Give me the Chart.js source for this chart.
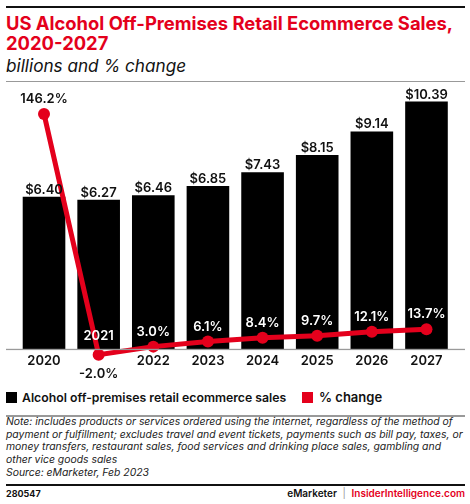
<!DOCTYPE html>
<html>
<head>
<meta charset="utf-8">
<script src="https://cdn.jsdelivr.net/npm/chart.js@4"></script>
<style>
  html,body{margin:0;padding:0;background:#fff;}
  body{width:470px;height:504px;position:relative;overflow:hidden;font-family:Inter,"Open Sans",sans-serif;}
  .abs{position:absolute;white-space:nowrap;}
  .rule{position:absolute;left:6px;width:459px;}
  #title{left:6px;top:13px;font-weight:700;color:#e4001c;font-size:17px;line-height:20px;}
  #subtitle{left:6px;top:56px;font-style:italic;font-weight:400;color:#111;font-size:16px;line-height:20px;}
  #chartBox{position:absolute;left:0;top:82px;width:470px;height:300px;}
  .leg{position:absolute;top:389px;height:17px;font-size:13px;line-height:17px;font-weight:600;color:#111;}
  .sw{position:absolute;width:11px;height:11px;top:392px;}
  #note{left:6px;top:416px;font-style:italic;font-size:11px;line-height:12.7px;color:#222;}
  #fid{left:6px;top:488px;font-size:9px;font-weight:700;line-height:11px;color:#111;}
  #brand{right:5px;top:487px;font-size:10px;font-weight:600;line-height:12px;}
</style>
</head>
<body>
<div class="rule" style="top:6px;height:2px;background:#111;"></div>
<div id="title" class="abs"><span id="t1">US Alcohol Off-Premises Retail Ecommerce Sales,</span><br>2020-2027</div>
<div id="subtitle" class="abs">billions and % change</div>
<div class="rule" style="top:81px;height:1px;background:#999;"></div>
<div id="chartBox"><canvas id="c"></canvas></div>
<div class="sw" style="left:6px;background:#000;"></div>
<div class="leg abs" id="leg1" style="left:22px;">Alcohol off-premises retail ecommerce sales</div>
<div class="sw" style="left:302px;background:#e4001c;"></div>
<div class="leg abs" id="leg2" style="left:319px;">% change</div>
<div class="rule" style="top:415px;height:1.5px;background:#999;"></div>
<div id="note" class="abs"><span id="n1">Note: includes products or services ordered using the internet, regardless of the method of</span><br>payment or fulfillment; excludes travel and event tickets, payments such as bill pay, taxes, or<br>money transfers, restaurant sales, food services and drinking place sales, gambling and<br>other vice goods sales<br>Source: eMarketer, Feb 2023</div>
<div class="rule" style="top:484px;height:2px;background:#111;"></div>
<div id="fid" class="abs">280547</div>
<div id="brand" class="abs"><span style="color:#111;">eMarketer</span><span style="color:#999;font-weight:400;"> &nbsp;|&nbsp; </span><span style="color:#e4001c;">InsiderIntelligence.com</span></div>
<script>
// ---- data ----
const years = ["2020","2021","2022","2023","2024","2025","2026","2027"];
const sales = [6.40, 6.27, 6.46, 6.85, 7.43, 8.15, 9.14, 10.39];
const pctChange = [146.2, -2.0, 3.0, 6.1, 8.4, 9.7, 12.1, 13.7];
const salesLabels = ["$6.40","$6.27","$6.46","$6.85","$7.43","$8.15","$9.14","$10.39"];
const pctLabels = ["146.2%","-2.0%","3.0%","6.1%","8.4%","9.7%","12.1%","13.7%"];

// fit widths of some text lines
function fit(el, target, box){
  const b = box || el;
  let fs = parseFloat(getComputedStyle(b).fontSize);
  for(let i=0;i<6;i++){
    const w = el.getBoundingClientRect().width;
    fs = fs*target/w;
    b.style.fontSize = fs.toFixed(2)+"px";
  }
}
fit(document.getElementById('t1'), 447, document.getElementById('title'));
fit(document.getElementById('subtitle'), 180);
fit(document.getElementById('leg1'), 264);
fit(document.getElementById('n1'), 447, document.getElementById('note'));

const RED = '#e4001c';
const FONT = 'Inter, "Open Sans", sans-serif';

const labelPlugin = {
  id:'labels',
  afterDatasetsDraw(chart){
    const ctx = chart.ctx;
    const bars = chart.getDatasetMeta(1).data;
    const pts = chart.getDatasetMeta(0).data;
    const area = chart.chartArea;
    ctx.save();
    // baseline
    ctx.fillStyle = '#9a9a9a';
    ctx.fillRect(6, area.bottom - 0.5, 459, 1.3);
    ctx.textAlign = 'center';
    ctx.font = '600 13px ' + FONT;
    // bar value labels
    ctx.fillStyle = '#111';
    ctx.textBaseline = 'alphabetic';
    bars.forEach((b,i)=>{ ctx.fillText(salesLabels[i], b.x, b.y - 3); });
    // x labels
    ctx.textBaseline = 'middle';
    bars.forEach((b,i)=>{
      if (pctChange[i] < 0) { ctx.fillStyle = '#fff'; ctx.fillText(years[i], b.x, area.bottom - 13); }
      else { ctx.fillStyle = '#111'; ctx.fillText(years[i], b.x, area.bottom + 12); }
    });
    // pct labels
    pts.forEach((p,i)=>{
      const bar = bars[i];
      if (pctChange[i] < 0) {
        ctx.fillStyle = '#111'; ctx.textBaseline = 'top';
        ctx.fillText(pctLabels[i], p.x, p.y + 13);
      } else {
        const ty = p.y - 11;
        ctx.fillStyle = (ty - 10 > bar.y) ? '#fff' : '#111';
        ctx.textBaseline = 'alphabetic';
        ctx.fillText(pctLabels[i], p.x, ty);
      }
    });
    ctx.restore();
  }
};

new Chart(document.getElementById('c'), {
  data: {
    labels: years,
    datasets: [
      { type:'line', label:'% change', data: pctChange, yAxisID:'y1', order:0,
        borderColor: RED, backgroundColor: RED, borderWidth: 5,
        pointRadius: 6, pointBackgroundColor: RED, pointBorderWidth: 0, pointHoverRadius:6,
        tension: 0, clip: false },
      { type:'bar', label:'Alcohol off-premises retail ecommerce sales', data: sales, yAxisID:'y', order:1,
        backgroundColor:'#000', barPercentage:0.78, categoryPercentage:1.0 }
    ]
  },
  options: {
    responsive: true, maintainAspectRatio: false, animation: false,
    devicePixelRatio: 1,
    layout: { padding: { left: 16.7, right: 16.2, top: 8, bottom: 32.7 } },
    plugins: { legend: { display:false }, tooltip: { enabled:false } },
    scales: {
      x: { type:'category', display:false, offset:true },
      y: { display:false, min:0, max:10.877 },
      y1: { display:false, min:1.354, max:160.92 }
    }
  },
  plugins: [labelPlugin]
});
</script>
</body>
</html>
